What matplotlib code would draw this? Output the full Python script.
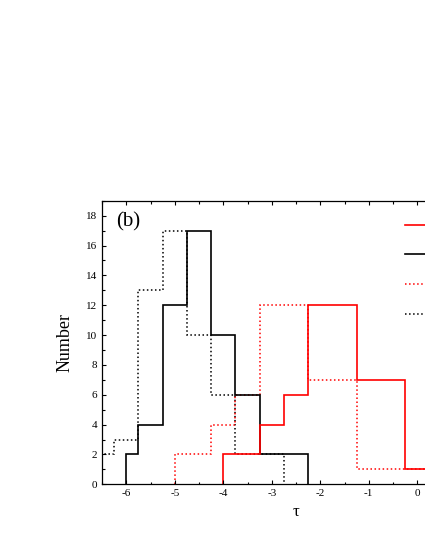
import matplotlib
matplotlib.use('Agg')
import matplotlib.pyplot as plt
from matplotlib.lines import Line2D
from matplotlib.ticker import MultipleLocator, FixedLocator

plt.rcParams["font.family"] = ["Liberation Serif", "DejaVu Serif"]
plt.rcParams["axes.unicode_minus"] = False

# histogram data (bin edges, counts)
red_solid_edges = [-4.0, -3.25, -2.75, -2.25, -1.25, -0.25, 0.75]
red_solid_counts = [2, 4, 6, 12, 7, 1]

black_solid_edges = [-6.0, -5.75, -5.25, -4.75, -4.25, -3.75, -3.25, -2.25]
black_solid_counts = [2, 4, 12, 17, 10, 6, 2]

red_dot_edges = [-5.0, -4.25, -3.75, -3.25, -2.25, -1.25, 0.75]
red_dot_counts = [2, 4, 6, 12, 7, 1]

black_dot_edges = [-6.5, -6.25, -5.75, -5.25, -4.75, -4.25, -3.75, -2.75]
black_dot_counts = [2, 3, 13, 17, 10, 6, 2]

x_ticks = [-6, -5, -4, -3, -2, -1, 0]

fig = plt.figure(figsize=(4.25, 5.5), dpi=100)
ax = fig.add_axes([0.240, 0.1195, 0.913, 0.5155])

ax.stairs(black_dot_counts, black_dot_edges, baseline=0, color='black', linestyle=':', linewidth=1.1)
ax.stairs(red_dot_counts, red_dot_edges, baseline=0, color='#ff0000', linestyle=':', linewidth=1.1)
ax.stairs(black_solid_counts, black_solid_edges, baseline=0, color='black', linewidth=1.2)
ax.stairs(red_solid_counts, red_solid_edges, baseline=0, color='#ff0000', linewidth=1.2)

ax.set_xlim(-6.5, 1.5)
ax.set_ylim(0, 19)
ax.xaxis.set_major_locator(FixedLocator(x_ticks))
ax.xaxis.set_minor_locator(MultipleLocator(0.5))
ax.yaxis.set_major_locator(MultipleLocator(2))
ax.yaxis.set_minor_locator(MultipleLocator(1))
ax.tick_params(which='both', direction='in', top=True, right=True, labelsize=8, width=0.8)
ax.tick_params(which='major', length=3)
ax.tick_params(which='minor', length=1.8)
for s in ax.spines.values():
    s.set_linewidth(0.9)

ax.set_xlabel('τ', fontsize=12, labelpad=4)
ax.set_ylabel('Number', fontsize=13, labelpad=9)
ax.text(0.036, 0.925, '(b)', transform=ax.transAxes, fontsize=15, va='center', ha='left')

handles = [
    Line2D([], [], color='#ff0000', linewidth=1.2),
    Line2D([], [], color='black', linewidth=1.2),
    Line2D([], [], color='#ff0000', linestyle=':', linewidth=1.1),
    Line2D([], [], color='black', linestyle=':', linewidth=1.1),
]
ax.legend(handles, ['', '', '', ''], loc='upper left', bbox_to_anchor=(0.78, 0.934),
          frameon=False, fontsize=10, labelspacing=1.2, handlelength=3,
          borderpad=0, borderaxespad=0)

fig.savefig('out.png', dpi=100)
